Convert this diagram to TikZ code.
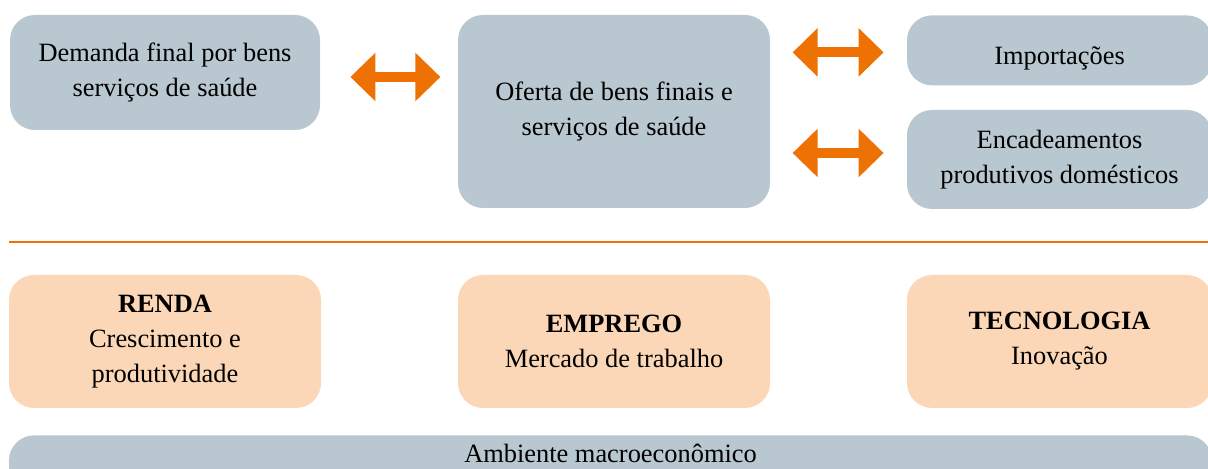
\documentclass[tikz,border=0pt]{standalone}
\usepackage{fontspec}
\setmainfont{Liberation Serif}
\usetikzlibrary{arrows.meta}
\definecolor{boxgray}{HTML}{B8C7D0}
\definecolor{boxpeach}{HTML}{FBD7B8}
\definecolor{lineorange}{HTML}{EE7203}
\tikzstyle{sector} = [fill=boxgray, rounded corners=12.5pt, align=center, inner sep=0pt, font=\fontsize{13.2}{17.5}\selectfont]
\tikzstyle{factor} = [sector, fill=boxpeach]
\tikzstyle{link} = [draw=lineorange, line width=5pt, {Triangle[length=12.5pt,width=23.5pt]}-{Triangle[length=12.5pt,width=23.5pt]}]

\begin{document}
\begin{tikzpicture}[x=0.5pt,y=-0.5pt]
	\useasboundingbox (0,0) rectangle (1208,469);
	% demand and supply
	\node [sector, minimum width=155pt, minimum height=57.5pt] (demanda) at (165,72.5) {Demanda final por bens\\serviços de saúde};
	\node [sector, minimum width=156pt, minimum height=96.5pt] (oferta) at (614,111.5) {Oferta de bens finais e\\serviços de saúde};
	\node [sector, anchor=north, minimum width=152.5pt, text height=24.5pt, text depth=10.5pt] (importacoes) at (1059.5,15) {Importações};
	\node [sector, minimum width=152.5pt, minimum height=49.5pt] (encadeamentos) at (1059.5,159.5) {Encadeamentos\\produtivos domésticos};
	\draw [link] ([xshift=15pt,yshift=-2.25pt]demanda.east) -- ([xshift=60pt,yshift=-2.25pt]demanda.east);
	\draw [link] ([xshift=-11.5pt,yshift=-1pt]importacoes.west) -- ([xshift=-57pt,yshift=-1pt]importacoes.west);
	\draw [link] ([xshift=-11.5pt,yshift=3.25pt]encadeamentos.west) -- ([xshift=-57pt,yshift=3.25pt]encadeamentos.west);
	\draw [lineorange, line width=1.3pt] (9,242) -- (1212,242);
	% factors
	\node [factor, minimum width=156pt, minimum height=66.5pt] (renda) at (165,341.5) {\textbf{RENDA}\\Crescimento e\\produtividade};
	\node [factor, minimum width=156pt, minimum height=66.5pt] (emprego) at (614,341.5) {\textbf{EMPREGO}\\Mercado de trabalho};
	\node [factor, minimum width=152.5pt, minimum height=66.5pt] (tecnologia) at (1059.5,341.5) {\textbf{TECNOLOGIA}\\Inovação};
	\node [sector, anchor=north, minimum width=601.5pt, text height=13.5pt, text depth=20pt] (ambiente) at (610.5,435) {Ambiente macroeconômico};
\end{tikzpicture}
\end{document}
